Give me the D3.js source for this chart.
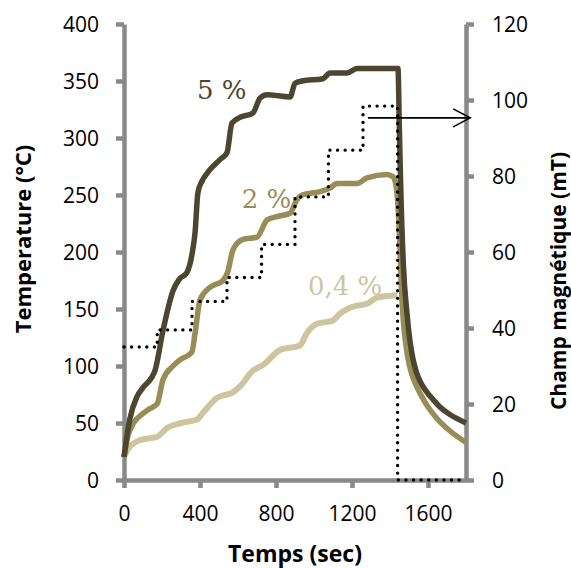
<!DOCTYPE html>
<html><head><meta charset="utf-8">
<script src="https://cdn.jsdelivr.net/npm/d3@7"></script>
<style>html,body{margin:0;padding:0;background:#fff;}svg{display:block;}</style>
</head><body>
<svg id="chart" width="571" height="568"></svg>
<script>
// ---- data ----
const t5 = [0, 30, 68, 100, 146, 163, 205, 258, 290, 331, 360, 374, 389, 410, 437, 505, 542, 568, 610, 679, 716, 753, 874, 900, 937, 1047, 1084, 1174, 1226, 1442, 1449, 1456, 1470, 1490, 1505, 1521, 1540, 1560, 1590, 1630, 1663, 1720, 1800];
const T5 = [20, 53, 73, 81, 90, 96, 131, 166, 176, 182, 200, 217, 252, 262, 269, 281, 287, 313, 318, 322, 335, 338, 336, 348, 350, 352, 357, 357, 361, 361, 310, 260, 190, 145, 122, 106, 94, 86, 78, 70, 64, 57, 50];

const t2 = [0, 20, 50, 90, 130, 175, 205, 258, 300, 357, 375, 400, 453, 521, 545, 574, 626, 700, 753, 805, 874, 910, 937, 1032, 1084, 1121, 1226, 1279, 1384, 1416, 1432, 1442, 1452, 1460, 1470, 1485, 1500, 1525, 1558, 1600, 1647, 1716, 1800];
const T2 = [20, 38, 50, 57, 62, 67, 88, 100, 106, 112, 130, 158, 169, 175, 182, 202, 211, 213, 228, 231, 234, 246, 250, 253, 256, 260, 260, 265, 268, 266, 258, 240, 205, 168, 140, 117, 102, 88, 76, 64, 54, 43, 33];

const t04 = [0, 20, 84, 175, 230, 300, 384, 416, 489, 574, 610, 679, 732, 821, 926, 963, 1016, 1100, 1137, 1205, 1284, 1332, 1437];
const T04 = [20, 27, 35, 38, 46, 50, 53, 59, 72, 77, 82, 96, 101, 114, 118, 129, 137, 140, 146, 152, 155, 160, 162];

const tField = [0, 175, 358, 542, 724, 900, 1076, 1258, 1440, 1800];
const field = [35, 39.5, 47, 53.3, 62, 74.5, 86.8, 98.4, 0, 0];

const xTicks = [0, 400, 800, 1200, 1600];
const yTicks = [0, 50, 100, 150, 200, 250, 300, 350, 400];
const y2Ticks = [0, 20, 40, 60, 80, 100, 120];

const seriesLabels = ["5 %", "2 %", "0,4 %"];
const labelPos = [[384, 334], [620, 239], [968, 162]]; // [time, temperature] anchors
const arrowFrom = [1284, 95.3], arrowTo = [1822, 95.3];

const colors = ["#4c4630", "#978d57", "#cdc59f"];

// ---- chart ----
const svg = d3.select("#chart");
const L = 124, R = 466, T = 24, B = 480;
const x = d3.scaleLinear().domain([0, 1800]).range([L, R]);
const y = d3.scaleLinear().domain([0, 400]).range([B, T]);
const y2 = d3.scaleLinear().domain([0, 120]).range([B, T]);
const axisColor = "#898989";
const tickFont = "'Open Sans', sans-serif";

function styleAxis(g) {
  g.selectAll(".domain").attr("stroke", axisColor).attr("stroke-width", 4.5);
  g.selectAll(".tick line").attr("stroke", axisColor).attr("stroke-width", 4.5);
  g.selectAll(".tick text").attr("fill", "#000").style("font-family", tickFont).style("font-size", "21px");
}

const gx = svg.append("g").attr("transform", `translate(0,${B})`)
  .call(d3.axisBottom(x).tickValues(xTicks).tickFormat(d3.format("d")).tickSizeInner(8).tickSizeOuter(0).tickPadding(18));
styleAxis(gx);
const gy = svg.append("g").attr("transform", `translate(${L},0)`)
  .call(d3.axisLeft(y).tickValues(yTicks).tickSizeInner(8).tickSizeOuter(0).tickPadding(17));
styleAxis(gy);
gy.selectAll(".tick text").attr("dy", "0.36em");
const gy2 = svg.append("g").attr("transform", `translate(${R},0)`)
  .call(d3.axisRight(y2).tickValues(y2Ticks).tickSizeInner(8).tickSizeOuter(0).tickPadding(18));
styleAxis(gy2);
gy2.selectAll(".tick text").attr("dy", "0.36em");

// curves
const line = d3.line().x(d => x(d[0])).y(d => y(d[1])).curve(d3.curveMonotoneX);
const series = [[t04, T04, colors[2], 6], [t2, T2, colors[1], 5.5], [t5, T5, colors[0], 5.5]];
series.forEach(([ts, vs, c, w]) => {
  svg.append("path").datum(ts.map((t, i) => [t, vs[i]]))
    .attr("d", line).attr("fill", "none").attr("stroke", c).attr("stroke-width", w)
    .attr("stroke-linejoin", "round");
});

// magnetic field (dotted step)
const fline = d3.line().x(d => x(d[0])).y(d => y2(d[1])).curve(d3.curveStepAfter);
svg.append("path").datum(tField.map((t, i) => [t, field[i]]))
  .attr("d", fline).attr("fill", "none").attr("stroke", "#000").attr("stroke-width", 3.4)
  .attr("stroke-linecap", "round").attr("stroke-dasharray", "0 7.6");

// arrow
const ax0 = x(arrowFrom[0]), ax1 = x(arrowTo[0]), ay = y2(arrowFrom[1]);
svg.append("line").attr("x1", ax0).attr("x2", ax1).attr("y1", ay).attr("y2", ay)
  .attr("stroke", "#000").attr("stroke-width", 1.6);
svg.append("path").attr("d", `M${ax1 - 17},${ay - 9}L${ax1},${ay}L${ax1 - 17},${ay + 9}`)
  .attr("fill", "none").attr("stroke", "#000").attr("stroke-width", 1.6);

// series labels
const labelColors = [colors[0], colors[1], colors[2]];
seriesLabels.forEach((s, i) => {
  svg.append("text").attr("x", x(labelPos[i][0])).attr("y", y(labelPos[i][1]))
    .attr("fill", labelColors[i]).style("font-family", "'DejaVu Serif', serif")
    .style("font-size", "26px").text(s);
});

// axis titles
const titleFont = "'Open Sans', sans-serif";
svg.append("text").attr("transform", `translate(31,239) rotate(-90)`)
  .attr("text-anchor", "middle").style("font-family", titleFont).style("font-weight", "bold")
  .style("font-size", "22px").text("Temperature (°C)");
svg.append("text").attr("transform", `translate(566,281) rotate(-90)`)
  .attr("text-anchor", "middle").style("font-family", titleFont).style("font-weight", "bold")
  .style("font-size", "21px").text("Champ magnétique (mT)");
svg.append("text").attr("x", 295).attr("y", 562)
  .attr("text-anchor", "middle").style("font-family", titleFont).style("font-weight", "bold")
  .style("font-size", "23px").text("Temps (sec)");
</script>
</body></html>
